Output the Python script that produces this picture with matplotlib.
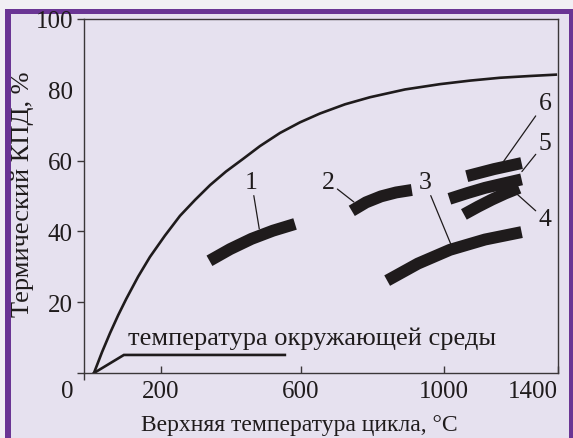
import numpy as np
import matplotlib
matplotlib.use('Agg')
import matplotlib.pyplot as plt
from matplotlib.patches import Rectangle

plt.rcParams['font.family'] = ['Liberation Serif', 'DejaVu Serif']

INK = '#1f1b1c'
AXIS = '#3a3638'
PURPLE = '#6a3594'
LAVENDER = '#e6e1ef'

# ideal (Carnot-like) efficiency curve
curve_t = [26, 47, 68, 89, 110, 141, 172, 212, 255, 298, 341, 386, 435, 483,
           540, 597, 653, 723, 793, 891, 989, 1092, 1197, 1303, 1398]
curve_eta = [0, 5.9, 11.3, 16.3, 20.9, 27.2, 32.8, 38.8, 44.4, 48.9, 53.1, 56.9,
             60.5, 64.1, 67.8, 70.8, 73.3, 75.9, 77.9, 80.1, 81.6, 82.6, 83.4,
             83.9, 84.3]

# ambient temperature line
amb_t = [26, 104, 554]
amb_eta = [0, 5.1, 5.1]

# real cycles (thick bands)
band1_t = [339, 398, 459, 520, 583]
band1_eta = [31.7, 35.0, 37.9, 40.2, 42.1]
band2_t = [742, 782, 824, 866, 910]
band2_eta = [45.8, 48.2, 49.9, 51.0, 51.7]
band3_t = [841, 927, 1021, 1144, 1273]
band3_eta = [26.1, 30.9, 34.8, 37.7, 39.8]
band4_t = [1070, 1120, 1169, 1215, 1264]
band4_eta = [44.8, 47.0, 49.0, 50.7, 52.3]
band5_t = [1019, 1081, 1144, 1208, 1273]
band5_eta = [49.2, 50.8, 52.3, 53.5, 54.7]
band6_t = [1080, 1176, 1273]
band6_eta = [55.6, 57.6, 59.3]

# band labels: text position and where the leader touches the band
labels = ['1', '2', '3', '4', '5', '6']
label_t = [459, 676, 947, 1355, 1355, 1355]
label_eta = [54.0, 54.0, 54.0, 43.5, 65.0, 76.3]
leader_t = [481, 748, 1025, 1256, 1274, 1208]
leader_eta = [40.7, 48.3, 36.2, 50.6, 56.9, 59.6]

x_ticks = [200, 600, 1000, 1400]
y_ticks = [0, 20, 40, 60, 80, 100]

# the printed temperature axis is not evenly spaced
T_KNOTS = [-200, 0, 200, 600, 1000, 1400, 1600]
P_KNOTS = [7.3, 84, 160.7, 301, 444, 557.7, 614.5]


def fwd(x):
    return np.interp(np.asarray(x, dtype=float), T_KNOTS, P_KNOTS)


def inv(p):
    return np.interp(np.asarray(p, dtype=float), P_KNOTS, T_KNOTS)


W, H = 573, 439
fig = plt.figure(figsize=(W / 100, H / 100), dpi=100)
fig.patch.set_facecolor('#f1eff4')
fig.patches.append(Rectangle((5 / W, 0), 568 / W, (H - 10) / H, transform=fig.transFigure,
                             facecolor=PURPLE, edgecolor='none', zorder=-3))
fig.patches.append(Rectangle((11 / W, 0), 558 / W, (H - 15) / H, transform=fig.transFigure,
                             facecolor=LAVENDER, edgecolor='none', zorder=-2))

ax = fig.add_axes([84 / W, 65 / H, (557.7 - 84) / W, (374 - 20) / H])
ax.set_facecolor('none')
ax.set_xscale('function', functions=(fwd, inv))
ax.set_xlim(0, 1400)
ax.set_ylim(0, 100)

for s in ax.spines.values():
    s.set_linewidth(1.0)
    s.set_color(AXIS)

ax.plot(curve_t, curve_eta, color=INK, lw=1.9, solid_capstyle='butt', solid_joinstyle='round')
ax.plot(amb_t, amb_eta, color=INK, lw=1.9, solid_joinstyle='miter')

for bt, be in [(band1_t, band1_eta), (band2_t, band2_eta), (band3_t, band3_eta),
               (band4_t, band4_eta), (band5_t, band5_eta), (band6_t, band6_eta)]:
    ax.plot(bt, be, color=INK, lw=8.6, solid_capstyle='butt', solid_joinstyle='round')

for txt, tx, ty, lx, ly in zip(labels, label_t, label_eta, leader_t, leader_eta):
    ax.annotate(txt, xy=(lx, ly), xytext=(tx, ty), ha='center', va='center',
                fontsize=18.5, color=INK,
                arrowprops=dict(arrowstyle='-', color=INK, lw=0.9, shrinkA=0, shrinkB=0))

ax.text(116, 8.2, 'температура окружающей среды', ha='left', va='baseline',
        fontsize=19, color=INK)

ax.set_xticks(x_ticks, [str(v) for v in x_ticks])
ax.get_xticklabels()[-1].set_ha('right')
ax.set_xticks([0], minor=True)
ax.tick_params(axis='x', which='major', direction='in', length=5, width=1.0,
               labelsize=18, pad=5, colors=AXIS, labelcolor=INK)
ax.tick_params(axis='x', which='minor', direction='out', length=5, width=1.0, colors=AXIS)

ax.set_yticks(y_ticks, ['', '20', '40', '60', '80', '100'])
ax.yaxis.get_major_ticks()[4].tick1line.set_visible(False)
ax.tick_params(axis='y', direction='out', length=5, width=1.0, labelsize=18, pad=3,
               colors=AXIS, labelcolor=INK)

ax.annotate('0', xy=(0, 0), xytext=(-17, -18), textcoords='offset pixels',
            ha='center', va='center', fontsize=18, color=INK, annotation_clip=False)

ax.set_xlabel('Верхняя температура цикла, °C', fontsize=17, color=INK, va='baseline')
ax.xaxis.set_label_coords((299 - 84) / (557.7 - 84), (374 - 431) / 354)
ax.set_ylabel('Термический КПД, %', fontsize=19, color=INK, va='center')
ax.yaxis.set_label_coords((23 - 84) / (557.7 - 84), (374 - 194) / 354)

fig.savefig('out.png', dpi=100, facecolor=fig.get_facecolor())
